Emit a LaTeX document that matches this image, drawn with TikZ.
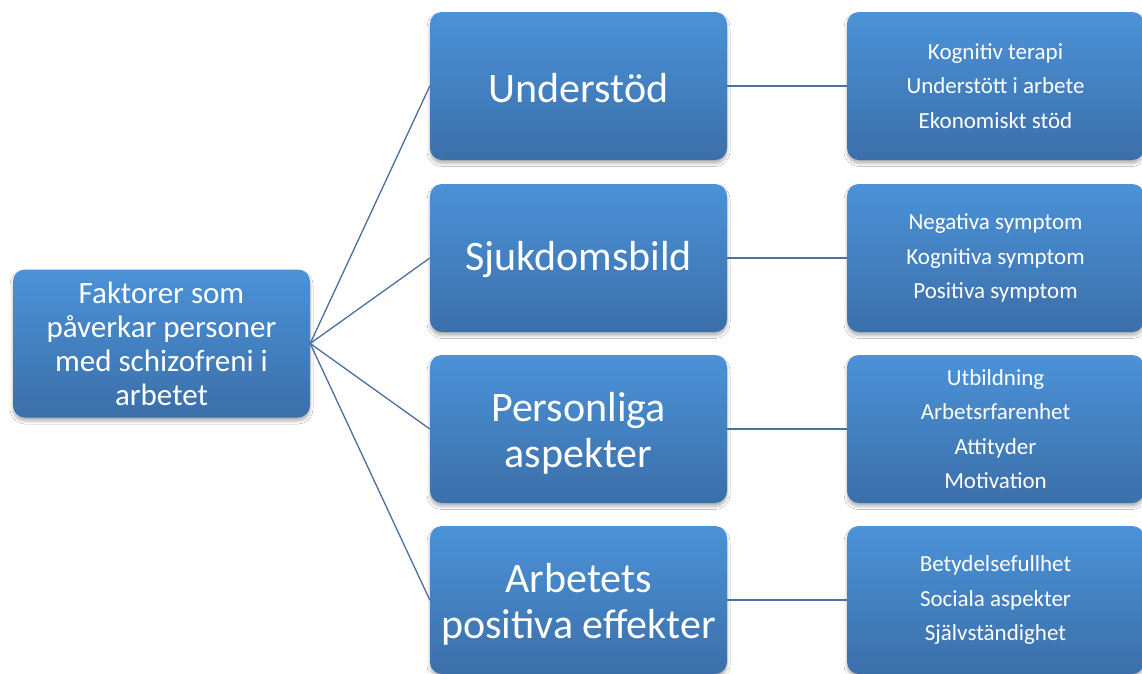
\documentclass[tikz,border=0pt]{standalone}
\usepackage{fontspec}
\setmainfont{Carlito}
\usetikzlibrary{shadows.blur}
\definecolor{boxtop}{RGB}{75,146,216}
\definecolor{boxbot}{RGB}{59,111,169}
\definecolor{linec}{RGB}{74,112,160}
\tikzset{
  box/.style={rectangle, rounded corners=12pt, minimum width=297pt, minimum height=148pt,
    inner sep=2pt, top color=boxtop, bottom color=boxbot, draw=none, text=white, align=center,
    blur shadow={shadow blur steps=6, shadow xshift=0pt, shadow yshift=-3.5pt, shadow blur radius=3pt, shadow opacity=30}},
  bigtxt/.style={text=white, align=center, font=\fontsize{42}{46}\selectfont},
  lefttxt/.style={font=\fontsize{31}{34}\selectfont},
  smalltxt/.style={font=\fontsize{23}{34.5}\selectfont},
  conn/.style={draw=linec, line width=1.3pt}
}
\begin{document}
\begin{tikzpicture}[x=1pt,y=-1pt]
\fill[white] (0,0) rectangle (1142,673);
\useasboundingbox (0,0) rectangle (1142,673);
\node[box, lefttxt] (root) at (161.5,343.5) {Faktorer som\\påverkar personer\\med schizofreni i\\arbetet};
\node[box, label={[bigtxt, yshift=-2pt]center:Understöd}] (m1) at (578.5,86) {};
\node[box, label={[bigtxt, yshift=-2pt]center:Sjukdomsbild}] (m2) at (578.5,258) {};
\node[box, label={[bigtxt, yshift=-4.5pt]center:Personliga\\aspekter}] (m3) at (578.5,429) {};
\node[box, label={[bigtxt, yshift=-4.5pt]center:Arbetets\\positiva effekter}] (m4) at (578.5,600) {};
\node[box, smalltxt] (r1) at (995.5,86) {Kognitiv terapi\\Understött i arbete\\Ekonomiskt stöd};
\node[box, smalltxt] (r2) at (995.5,258) {Negativa symptom\\Kognitiva symptom\\Positiva symptom};
\node[box, smalltxt] (r3) at (995.5,429) {Utbildning\\Arbetsrfarenhet\\Attityder\\Motivation};
\node[box, smalltxt] (r4) at (995.5,600) {Betydelsefullhet\\Sociala aspekter\\Självständighet};
\foreach \m in {m1,m2,m3,m4} \draw[conn] (root.east) -- (\m.west);
\draw[conn] (m1.east) -- (r1.west);
\draw[conn] (m2.east) -- (r2.west);
\draw[conn] (m3.east) -- (r3.west);
\draw[conn] (m4.east) -- (r4.west);
\end{tikzpicture}
\end{document}
